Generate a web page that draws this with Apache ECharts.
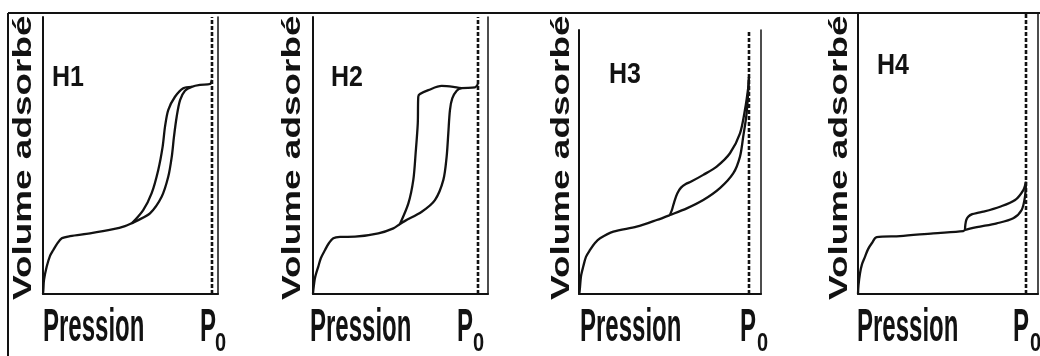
<!DOCTYPE html>
<html>
<head>
<meta charset="utf-8">
<script src="https://cdn.jsdelivr.net/npm/echarts/dist/echarts.min.js"></script>
<style>
  html, body { margin: 0; padding: 0; background: #fff; }
  #chart { width: 1040px; height: 356px; }
</style>
</head>
<body>
<div id="chart"></div>
<script>
// x : P/P0 (0 .. 1 = P0), y : volume adsorbé (unités arbitraires)
const panelNames = ['H1', 'H2', 'H3', 'H4']
const axisTitle = 'Volume adsorbé'
const xTitle = 'Pression'
const p0Label = 'P'
const p0Sub = '0'
const p0 = 1

// H1
const h1Adsorption = [[0, 0], [0.002, 1.4], [0.006, 5.1], [0.022, 9.9], [0.041, 13.7], [0.061, 15.9], [0.083, 18.1],
  [0.111, 20.1], [0.16, 20.9], [0.278, 21.9], [0.416, 23.4], [0.485, 24.5], [0.527, 25.6], [0.554, 26.4],
  [0.633, 29.1], [0.702, 35.1], [0.741, 42.3], [0.762, 49.6], [0.775, 56.8], [0.791, 64.0], [0.811, 70.0],
  [0.84, 73.4], [0.88, 74.8], [0.929, 75.5], [0.988, 75.8], [1.0, 77.3]]
const h1Desorption = [[0.527, 25.6], [0.593, 30.3], [0.643, 36.4], [0.682, 44.8], [0.708, 53.2], [0.722, 60.4],
  [0.741, 66.4], [0.781, 71.2], [0.83, 74.3], [0.88, 74.8]]

// H2
const h2Adsorption = [[0, 0], [0.002, 1.4], [0.012, 5.8], [0.032, 9.9], [0.048, 13.0], [0.073, 15.9], [0.097, 18.4],
  [0.123, 20.1], [0.164, 20.6], [0.255, 20.7], [0.396, 21.9], [0.487, 23.7], [0.527, 25.3], [0.558, 26.4],
  [0.659, 29.7], [0.739, 33.9], [0.79, 41.2], [0.81, 49.6], [0.82, 58.0], [0.83, 66.4], [0.844, 70.6],
  [0.871, 73.4], [0.901, 74.3], [0.982, 74.6], [1.0, 75.8]]
const h2Desorption = [[0.527, 25.3], [0.578, 32.7], [0.608, 41.2], [0.622, 50.8], [0.635, 61.6], [0.638, 71.2],
  [0.648, 72.2], [0.699, 73.6], [0.78, 75.1], [0.85, 74.8], [0.901, 74.3]]

// H3
const h3Adsorption = [[0, 0], [0.003, 0.7], [0.006, 2.6], [0.012, 6.5], [0.025, 9.9], [0.041, 13.4], [0.065, 15.9],
  [0.094, 18.4], [0.124, 20.1], [0.202, 22.5], [0.339, 24.3], [0.457, 26.7], [0.535, 28.5], [0.634, 30.9],
  [0.731, 33.9], [0.829, 38.2], [0.908, 43.6], [0.947, 49.6], [0.966, 56.8], [0.986, 65.2], [1.0, 78.3]]
const h3Desorption = [[0.535, 28.5], [0.548, 30.6], [0.56, 33.2], [0.578, 36.3], [0.6, 38.4], [0.628, 39.7],
  [0.66, 40.6], [0.731, 43.0], [0.81, 46.0], [0.888, 50.8], [0.947, 58.0], [0.976, 66.4], [0.996, 74.8], [1.0, 78.3]]

// H4
const h4Adsorption = [[0, 0], [0.003, 3.2], [0.012, 7.5], [0.024, 10.8], [0.042, 13.5], [0.06, 16.2], [0.082, 18.3],
  [0.111, 20.5], [0.25, 20.9], [0.448, 21.9], [0.627, 22.7], [0.637, 23.1], [0.707, 24.1], [0.826, 25.5],
  [0.924, 27.3], [0.974, 30.3], [0.994, 35.1], [1.0, 40.5]]
const h4Desorption = [[0.637, 23.1], [0.639, 25.0], [0.645, 26.8], [0.658, 28.0], [0.68, 28.8], [0.712, 29.3],
  [0.746, 29.7], [0.845, 31.5], [0.935, 33.9], [0.984, 37.5], [1.0, 40.5]]

const adsorption = [h1Adsorption, h2Adsorption, h3Adsorption, h4Adsorption]
const desorption = [h1Desorption, h2Desorption, h3Desorption, h4Desorption]

// mise en page des 4 cadres (px)
const layout = [
  { left: 43, top: 17, width: 175, height: 277, xMax: 1.0355, yMax: 100, labelX: 24, nameY: 77.5, nameX: 52, presX: 43, pX: 200, subX: 215 },
  { left: 313, top: 17, width: 175, height: 277, xMax: 1.0606, yMax: 100, labelX: 293, nameY: 77.5, nameX: 331, presX: 310, pX: 457, subX: 473 },
  { left: 579, top: 30, width: 182, height: 264, xMax: 1.0706, yMax: 95.3, labelX: 562, nameY: 75, nameX: 609, presX: 580, pX: 740, subX: 757 },
  { left: 858, top: 13, width: 180, height: 281, xMax: 1.0714, yMax: 101.4, labelX: 840, nameY: 65.5, nameX: 877, presX: 857, pX: 1013, subX: 1030 }
]

const ink = '#121212'
const font = 'Liberation Sans, Arial, Helvetica, sans-serif'

const chart = echarts.init(document.getElementById('chart'))

const grid = []
const xAxis = []
const yAxis = []
const series = []
const graphic = []

const hiddenBits = {
  axisTick: { show: false },
  axisLabel: { show: false },
  splitLine: { show: false }
}

layout.forEach((p, i) => {
  grid.push({ left: p.left, top: p.top, width: p.width, height: p.height, outerBoundsMode: 'none', containLabel: false })
  xAxis.push(Object.assign({
    type: 'value',
    gridIndex: i,
    min: 0,
    max: p.xMax,
    axisLine: { show: true, onZero: false, lineStyle: { color: ink, width: 2 } }
  }, hiddenBits))
  yAxis.push(Object.assign({
    type: 'value',
    gridIndex: i,
    min: 0,
    max: p.yMax,
    axisLine: { show: true, onZero: false, lineStyle: { color: ink, width: 2 } }
  }, hiddenBits))
  // bord droit du cadre
  yAxis.push(Object.assign({
    type: 'value',
    gridIndex: i,
    position: 'right',
    min: 0,
    max: p.yMax,
    axisLine: { show: true, onZero: false, lineStyle: { color: ink, width: 1.5 } }
  }, hiddenBits))

  // ligne P0 en pointillés
  series.push({
    name: panelNames[i] + ' P0',
    type: 'line',
    xAxisIndex: i,
    yAxisIndex: i * 2,
    data: [[p0, 0], [p0, p.yMax]],
    symbol: 'none',
    silent: true,
    lineStyle: { color: ink, width: 2.6, type: [4, 2] }
  })
  series.push({
    name: panelNames[i] + ' adsorption',
    type: 'line',
    xAxisIndex: i,
    yAxisIndex: i * 2,
    data: adsorption[i],
    smooth: 0.3,
    symbol: 'none',
    silent: true,
    lineStyle: { color: ink, width: 2.3 }
  })
  series.push({
    name: panelNames[i] + ' désorption',
    type: 'line',
    xAxisIndex: i,
    yAxisIndex: i * 2,
    data: desorption[i],
    smooth: 0.3,
    symbol: 'none',
    silent: true,
    lineStyle: { color: ink, width: 2.3 }
  })

  // textes
  graphic.push({
    type: 'text', x: p.labelX, y: 300, rotation: Math.PI / 2, scaleX: 1.42, z: 10,
    style: { text: axisTitle, fill: ink, fontFamily: font, fontWeight: 'bold', fontSize: 26,
      textAlign: 'left', textVerticalAlign: 'middle', align: 'left', verticalAlign: 'middle' }
  })
  graphic.push({
    type: 'text', x: p.nameX, y: p.nameY, scaleY: 1.2, z: 10,
    style: { text: panelNames[i], fill: ink, fontFamily: font, fontWeight: 'bold', fontSize: 25,
      textAlign: 'left', textVerticalAlign: 'middle', align: 'left', verticalAlign: 'middle' }
  })
  graphic.push({
    type: 'text', x: p.presX, y: 328.5, scaleY: 1.9, z: 10,
    style: { text: xTitle, fill: ink, fontFamily: font, fontWeight: 'bold', fontSize: 24,
      textAlign: 'left', textVerticalAlign: 'middle', align: 'left', verticalAlign: 'middle' }
  })
  graphic.push({
    type: 'text', x: p.pX, y: 328.5, scaleY: 1.9, z: 10,
    style: { text: p0Label, fill: ink, fontFamily: font, fontWeight: 'bold', fontSize: 24,
      textAlign: 'left', textVerticalAlign: 'middle', align: 'left', verticalAlign: 'middle' }
  })
  graphic.push({
    type: 'text', x: p.subX, y: 344, scaleY: 1.3, z: 10,
    style: { text: p0Sub, fill: ink, fontFamily: font, fontWeight: 'bold', fontSize: 20,
      textAlign: 'left', textVerticalAlign: 'middle', align: 'left', verticalAlign: 'middle' }
  })
})

// cadre extérieur (haut + gauche), masque au-dessus
graphic.push({ type: 'rect', z: 20, shape: { x: 0, y: 0, width: 1040, height: 12 }, style: { fill: '#fff' } })
graphic.push({ type: 'line', z: 21, shape: { x1: 8, y1: 13, x2: 1040, y2: 13 }, style: { stroke: ink, lineWidth: 2 } })
graphic.push({ type: 'line', z: 21, shape: { x1: 8, y1: 13, x2: 8, y2: 356 }, style: { stroke: ink, lineWidth: 2 } })

chart.setOption({
  animation: false,
  backgroundColor: '#fff',
  grid: grid,
  xAxis: xAxis,
  yAxis: yAxis,
  series: series,
  graphic: graphic
})
</script>
</body>
</html>
